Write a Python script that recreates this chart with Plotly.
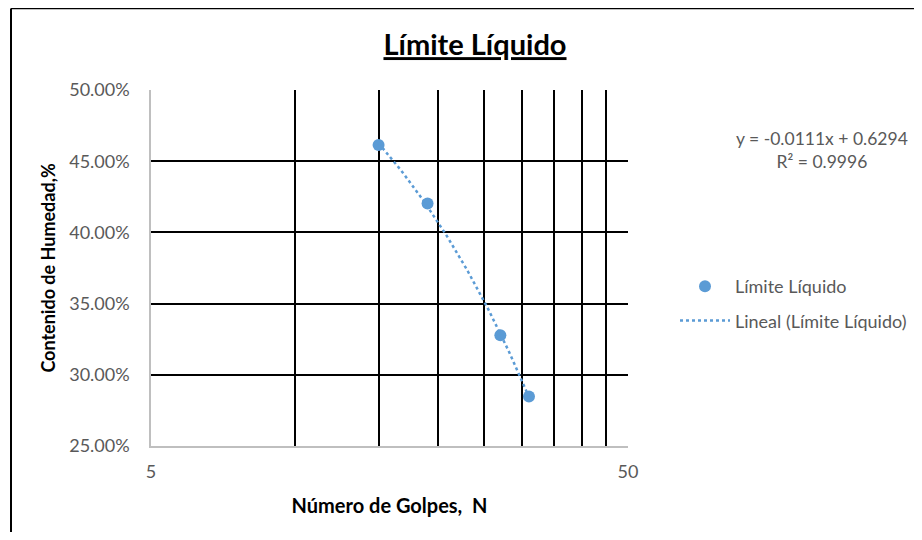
import numpy as np
import plotly.graph_objects as go

# Data
golpes = [15, 19, 27, 31]                      # Número de golpes, N
humedad = [0.4613, 0.4203, 0.3277, 0.2848]      # Contenido de humedad (fracción)

x_grid_vals = [5, 10, 15, 20, 25, 30, 35, 40, 45, 50]
x_tick_text = ["5", "", "", "", "", "", "", "", "", "50"]
y_tick_vals = [0.25, 0.30, 0.35, 0.40, 0.45, 0.50]

equation_text = "y = -0.0111x + 0.6294"
r2_text = "R² = 0.9996"

series_name = "Límite Líquido"
trend_name = "Lineal (Límite Líquido)"
title_text = "Límite Líquido"
x_title = "Número de Golpes,  N"
y_title = "Contenido de Humedad,%"

# Linear trendline (in x) fitted from the data, drawn over the data range
slope, intercept = np.polyfit(golpes, humedad, 1)
trend_x = np.linspace(min(golpes), max(golpes), 60)
trend_y = slope * trend_x + intercept

BLUE = "#5B9BD5"
FONT = "Lato"
GRAY = "#595959"

# page has an 8px body margin; figure sized so it fits the 922x540 window
OFF = 8
W, H = 922 - 2 * OFF, 540 - 2 * OFF
# plot area in window pixels: x 151..628, y 90..446
L = 151 - OFF
R = W - (628 - OFF)
T = 90 - OFF
B = H - (446 - OFF)
pw, ph = W - L - R, H - T - B

def px_x(p):  # window pixel -> paper x
    return (p - OFF - L) / pw

def px_y(p):  # window pixel -> paper y
    return (H - B - (p - OFF)) / ph

def cx(p):  # window pixel -> container x
    return (p - OFF) / W

def cy(p):  # window pixel -> container y
    return 1 - (p - OFF) / H

fig = go.Figure()
fig.add_trace(go.Scatter(
    x=golpes, y=humedad, mode="markers", name=series_name,
    marker=dict(color=BLUE, size=12), legendgroup="a",
))
fig.add_trace(go.Scatter(
    x=trend_x, y=trend_y, mode="lines", name=trend_name,
    line=dict(color=BLUE, width=2.5, dash="dot"), legendgroup="b",
))

fig.update_layout(
    width=W, height=H,
    margin=dict(l=L, r=R, t=T, b=B, autoexpand=False),
    paper_bgcolor="white", plot_bgcolor="white",
    font=dict(family=FONT, size=18, color=GRAY),
    title=dict(
        text="<u><b>" + title_text + "</b></u>",
        font=dict(family=FONT, size=29, color="black"),
        x=cx(475), xref="container", xanchor="center",
        y=cy(45), yref="container", yanchor="middle",
    ),
    showlegend=True,
    legend=dict(
        x=cx(675), y=cy(268), xref="container", yref="container",
        xanchor="left", yanchor="top",
        font=dict(family=FONT, size=18, color=GRAY),
        bgcolor="rgba(0,0,0,0)", itemwidth=50, tracegroupgap=8,
    ),
    xaxis=dict(
        type="log", range=[np.log10(5), np.log10(50)],
        tickvals=x_grid_vals, ticktext=x_tick_text,
        showgrid=True, gridcolor="black", gridwidth=1.5,
        showline=True, linecolor="#BFBFBF", linewidth=1.5,
        ticks="", ticklabelstandoff=9,
        tickfont=dict(family=FONT, size=18, color=GRAY),
        zeroline=False, automargin=False,
        title=dict(text="<b>" + x_title + "</b>", standoff=18,
                   font=dict(family=FONT, size=20, color="black")),
    ),
    yaxis=dict(
        range=[0.25, 0.50], tickvals=y_tick_vals, tickformat=".2%",
        showgrid=True, gridcolor="black", gridwidth=1.5,
        showline=True, linecolor="#BFBFBF", linewidth=1.5,
        ticks="", ticklabelstandoff=16,
        tickfont=dict(family=FONT, size=18, color=GRAY),
        zeroline=False, automargin=False,
        title=dict(text="<b>" + y_title + "</b>", standoff=9,
                   font=dict(family=FONT, size=18, color="black")),
    ),
    annotations=[
        dict(text=equation_text + "<br>" + r2_text, xref="paper", yref="paper",
             x=px_x(822), y=px_y(150), xanchor="center", yanchor="middle",
             showarrow=False, align="center",
             font=dict(family=FONT, size=17.5, color=GRAY)),
    ],
    shapes=[
        dict(type="line", xref="paper", yref="paper",
             x0=px_x(11), x1=px_x(11), y0=px_y(8.5), y1=px_y(560),
             line=dict(color="black", width=2)),
        dict(type="line", xref="paper", yref="paper",
             x0=px_x(11), x1=px_x(940), y0=px_y(8.5), y1=px_y(8.5),
             line=dict(color="black", width=1.5)),
    ],
)

fig.write_html("out.html")
